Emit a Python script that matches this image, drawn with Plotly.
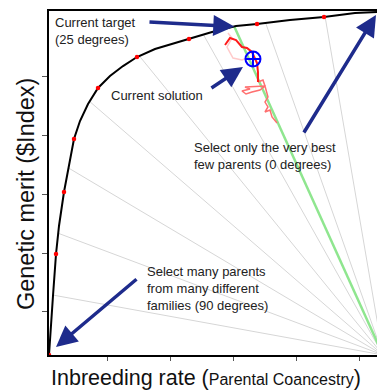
import math
import plotly.graph_objects as go

# Efficient frontier: genetic merit against inbreeding rate
frontier_x = [0.083, 0.115, 0.146, 0.194, 0.241, 0.320, 0.383, 0.478, 0.573, 0.700,
              0.858, 1.047, 1.253, 1.474, 1.759, 2.028, 2.296, 2.660, 3.040, 3.372,
              3.893, 4.431, 4.921, 5.364]
frontier_y = [0.271, 0.831, 1.271, 1.983, 2.458, 3.034, 3.407, 3.932, 4.237, 4.525,
              4.797, 5.000, 5.169, 5.322, 5.458, 5.542, 5.627, 5.746, 5.847, 5.881,
              5.949, 6.000, 6.068, 6.090]

# Solutions marked on the frontier
solutions_x = [0.083, 0.194, 0.320, 0.478, 0.858, 1.474, 2.296, 3.372, 4.431]
solutions_y = [0.271, 1.983, 3.034, 3.932, 4.797, 5.322, 5.627, 5.881, 6.000]

# Search path of the optimiser (oldest -> newest)
path_old_x = [2.913, 2.976, 2.897, 2.945, 2.992, 3.134, 3.213]
path_old_y = [5.729, 5.644, 5.492, 5.407, 5.305, 5.271, 5.305]
path_mid_x = [3.688, 3.609, 3.577, 3.498, 3.545, 3.498, 3.545, 3.498, 3.182,
              3.261, 3.134, 3.198, 3.292, 3.419, 3.498, 3.466, 3.387]
path_mid_y = [4.203, 4.305, 4.424, 4.390, 4.475, 4.559, 4.644, 4.831, 4.814,
              4.780, 4.746, 4.695, 4.729, 4.763, 4.831, 4.932, 4.898]
path_new_x = [3.387, 3.387, 3.372, 3.340, 3.324, 3.292, 3.213, 3.134, 3.040, 2.945, 2.866]
path_new_y = [4.898, 5.068, 5.220, 5.305, 5.322, 5.407, 5.475, 5.492, 5.610, 5.644, 5.525]

# Current solution
current_x = [3.308]
current_y = [5.288]

# Selection angles (degrees from the "best few parents" direction)
fan_angles = [10, 20, 30, 40, 50, 60, 70, 80]
target_angle = 25

X0, X_END = 0.083, 5.364
Y0, Y_TOP = 0.271, 6.102
X_VIEW = [X0, 5.269]


def ray_hit(theta):
    """Point where a ray from the (X_END, Y0) corner meets the frontier."""
    wx, wy = X_END - X0, Y_TOP - Y0
    dxn, dyn = -math.sin(math.radians(theta)), math.cos(math.radians(theta))
    pts = [((x - X0) / wx, (y - Y0) / wy) for x, y in zip(frontier_x, frontier_y)]
    for (u1, v1), (u2, v2) in zip(pts[:-1], pts[1:]):
        det = -dxn * (v2 - v1) + (u2 - u1) * dyn
        if abs(det) < 1e-12:
            continue
        s = (-(u1 - 1) * (v2 - v1) + (u2 - u1) * v1) / det
        r = (dxn * v1 - dyn * (u1 - 1)) / det
        if 0 <= r <= 1 and s > 1e-9:
            return X0 + (1 + s * dxn) * wx, Y0 + s * dyn * wy
    return None


fan_x, fan_y = [], []
for a in fan_angles:
    hit = ray_hit(a)
    if hit:
        fan_x += [X_END, hit[0], None]
        fan_y += [Y0, hit[1], None]

tx, ty = ray_hit(target_angle)

fig = go.Figure()
fig.add_trace(go.Scatter(x=fan_x, y=fan_y, mode="lines",
                         line=dict(color="#d6d6d6", width=1), hoverinfo="skip"))
fig.add_trace(go.Scatter(x=[X_END, tx], y=[Y0, ty], mode="lines",
                         line=dict(color="#8fe68f", width=2.5)))
fig.add_trace(go.Scatter(x=frontier_x, y=frontier_y, mode="lines",
                         line=dict(color="black", width=2)))
fig.add_trace(go.Scatter(x=solutions_x, y=solutions_y, mode="markers",
                         marker=dict(color="red", size=4.5)))
fig.add_trace(go.Scatter(x=path_old_x, y=path_old_y, mode="lines",
                         line=dict(color="#ffcaca", width=1.5)))
fig.add_trace(go.Scatter(x=path_mid_x, y=path_mid_y, mode="lines",
                         line=dict(color="#ff7070", width=1.5)))
fig.add_trace(go.Scatter(x=path_new_x, y=path_new_y, mode="lines",
                         line=dict(color="#ff1a1a", width=2)))
fig.add_trace(go.Scatter(x=current_x, y=current_y, mode="markers",
                         marker=dict(symbol="circle-cross-open", size=15,
                                     color="#0000ff", line=dict(width=2, color="#0000ff"))))

NAVY = "#1e2b8c"
FONT = "Arial, Liberation Sans, sans-serif"


def arrow(tip, tail):
    return dict(x=tip[0], y=tip[1], ax=tail[0], ay=tail[1], xref="x", yref="y",
                axref="x", ayref="y", text="", showarrow=True, arrowhead=2,
                arrowsize=1.2, arrowwidth=3.5, arrowcolor=NAVY, standoff=0)


def label(x, y, text, xanchor="left"):
    return dict(x=x, y=y, xref="x", yref="y", text=text, showarrow=False,
                xanchor=xanchor, yanchor="middle", align="left",
                font=dict(family=FONT, size=13, color="#222222"))


annotations = [
    arrow((tx, ty), (1.648, 5.915)),
    arrow((3.150, 5.153), (2.628, 4.780)),
    arrow((5.253, 6.034), (4.099, 4.017)),
    arrow((0.194, 0.407), (1.490, 1.576)),
    label(0.150, 5.760, "Current target<br>(25 degrees)"),
    label(1.791, 4.678, "Current solution", xanchor="center"),
    label(2.344, 3.636, "Select only the very best<br>few parents (0 degrees)"),
    label(1.601, 1.398, "Select many parents<br>from many different<br>families (90 degrees)"),
    dict(x=-0.070, y=0.468, xref="paper", yref="paper", text="Genetic merit ($Index)",
         textangle=-90, showarrow=False, xanchor="center", yanchor="middle",
         font=dict(family=FONT, size=23.5, color="#111111")),
    dict(x=0.480, y=-0.067, xref="paper", yref="paper",
         text="Inbreeding rate (<span style='font-size:16px'>Parental Coancestry</span>)",
         showarrow=False, xanchor="center", yanchor="middle",
         font=dict(family=FONT, size=21.5, color="#111111")),
]

fig.update_layout(
    width=377, height=390,
    margin=dict(l=49, r=0, t=11, b=35),
    paper_bgcolor="white", plot_bgcolor="white",
    showlegend=False,
    annotations=annotations,
    xaxis=dict(range=X_VIEW, showline=True, linecolor="black", linewidth=2, mirror=True,
               ticks="outside", tickvals=[1, 2, 3, 4, 5], ticklen=4, tickcolor="#555555",
               showticklabels=False, showgrid=False, zeroline=False),
    yaxis=dict(range=[Y0, Y_TOP], showline=True, linecolor="black", linewidth=2, mirror=False,
               ticks="outside", tickvals=[1, 2, 3, 4, 5], ticklen=5, tickcolor="#555555",
               showticklabels=False, showgrid=False, zeroline=False),
)

fig.write_html("out.html")
